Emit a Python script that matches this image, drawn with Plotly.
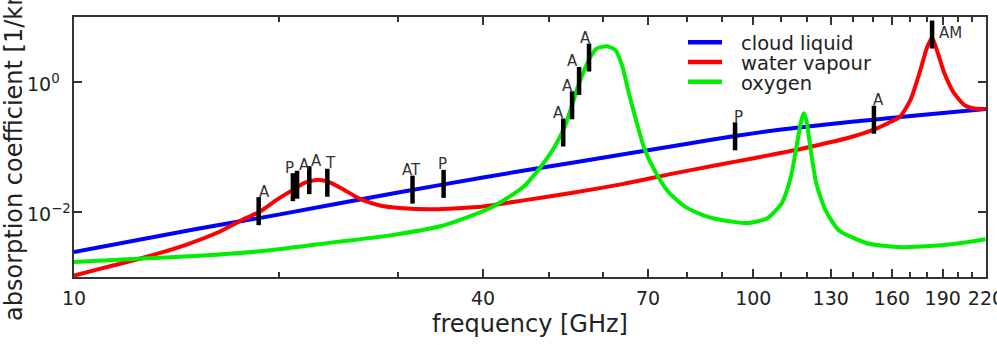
import numpy as np
import plotly.graph_objects as go

# ---------------- data ----------------
# frequency [GHz] and absorption coefficient [1/km]
cloud_freq = [10, 15, 20, 30, 40, 50, 60, 70, 80, 94, 110, 130, 150, 180, 220]
cloud_abs = [0.00243, 0.00537, 0.00912, 0.0200, 0.0339, 0.0501, 0.0684, 0.0891,
             0.112, 0.148, 0.186, 0.226, 0.263, 0.316, 0.383]

vapour_freq = [10, 11.05, 12.6, 14.65, 16.4, 17.7, 18.8, 19.9, 21.0, 21.8, 22.75,
               23.6, 24.7, 25.8, 26.7, 28.2, 30.2, 33.8, 40, 45.9, 54.5, 64.4,
               76.1, 89.3, 99.2, 117.4, 138.9, 150.8, 158.8, 164.5, 170.3, 176.1,
               180.2, 183.3, 186.5, 190.8, 197.6, 204.6, 211.7, 219.7]
vapour_abs = [0.00105, 0.00138, 0.00196, 0.00316, 0.00501, 0.00759, 0.0102, 0.0155,
              0.0219, 0.0279, 0.0312, 0.0295, 0.0234, 0.0180, 0.0151, 0.0126,
              0.0115, 0.0110, 0.0122, 0.0151, 0.0200, 0.0271, 0.0389, 0.0537,
              0.0661, 0.0933, 0.141, 0.186, 0.240, 0.295, 0.525, 1.51, 3.40, 4.8,
              3.00, 1.43, 0.667, 0.442, 0.390, 0.385]

oxygen_freq = [10, 12.4, 15.5, 19.4, 24.4, 29.2, 34.6, 41.0, 45.9, 49.1, 51.0, 52.9,
               54.1, 55.4, 57.4, 58.8, 60.9, 62.7, 64.2, 65.6, 67.2, 69.1, 71.5,
               74.9, 79.2, 84.5, 89.3, 98.1, 104.9, 110.1, 113.6, 116.0, 117.7,
               118.7, 119.7, 121.5, 123.8, 127.7, 133.6, 147.0, 164.5, 184.3,
               206.3, 219.7]
oxygen_abs = [0.00170, 0.00191, 0.00214, 0.00257, 0.00347, 0.00437, 0.00603, 0.0115,
              0.0245, 0.0562, 0.101, 0.219, 0.442, 0.955, 2.29, 3.27, 3.55, 3.09,
              1.70, 0.665, 0.259, 0.0955, 0.0442, 0.0207, 0.0122, 0.00891, 0.00759,
              0.00676, 0.00804, 0.0136, 0.0351, 0.115, 0.259, 0.331, 0.259, 0.0891,
              0.0275, 0.0107, 0.00525, 0.00331, 0.00288, 0.00302, 0.00343, 0.00380]

# instrument channels (bars) and their labels
sensor_freq = [18.7, 21.0, 21.3, 22.2, 23.6, 31.5, 35.0, 52.5, 54.1, 55.4, 57.3,
               94.0, 150.5, 183.3]
sensor_abs = [0.0103, 0.0241, 0.0263, 0.0309, 0.0282, 0.0221, 0.0271, 0.167, 0.438,
              1.04, 2.38, 0.146, 0.263, 5.37]
sensor_label = ["A", "P", "A", "A", "T", "AT", "P", "A", "A", "A", "A", "P", "A", "AM"]

series_names = ["cloud liquid", "water vapour", "oxygen"]

x_tick_vals = [10, 40, 70, 100, 130, 160, 190, 220]
x_minor_vals = [20, 30, 50, 60, 80, 90, 110, 120, 140, 150, 170, 180, 200, 210]
y_tick_vals = [1e-2, 1]
y_tick_text = ["10<sup>\u22122</sup>", "10<sup>0</sup>"]

# ---------------- style ----------------
FONT = "DejaVu Sans"
TXT = "#222222"
AXC = "#333333"
series_colors = ["#0000ff", "#ff0000", "#00ee00"]
# label offsets in px relative to bar centre (dx, dy)
label_shift = [(6, 19.5), (-3, 19.5), (7, 19.5), (7, 19.5), (3, 19.5), (-1, 19.5),
               (-1, 19.5), (-5, 19.5), (-5, 19.5), (-7, 19.5), (-4, 19.5),
               (3, 19.5), (5, 19.5), (18, 1.5)]

W, H = 997, 345
ML, MR, MT, MB = 74, 11, 17, 68
PW, PH = W - ML - MR, H - MT - MB

fig = go.Figure()
for xs, ys, name, col in zip([cloud_freq, vapour_freq, oxygen_freq],
                             [cloud_abs, vapour_abs, oxygen_abs],
                             series_names, series_colors):
    fig.add_trace(go.Scatter(x=xs, y=ys, name=name, mode="lines",
                             line=dict(color=col, width=4, shape="spline", smoothing=0.6),
                             showlegend=False))

fig.add_trace(go.Scatter(x=sensor_freq, y=sensor_abs, mode="markers", showlegend=False,
                         marker=dict(symbol="line-ns", size=20,
                                     line=dict(width=4.5, color="black"))))

for f, v, lab, (dx, dy) in zip(sensor_freq, sensor_abs, sensor_label, label_shift):
    fig.add_annotation(x=np.log10(f), y=np.log10(v), text=lab, showarrow=False,
                       xanchor="center", yanchor="middle", xshift=dx, yshift=dy,
                       font=dict(family=FONT, size=15, color="#333333"))

# y tick labels, left-aligned as in the reference
for tv, tt in zip(y_tick_vals, y_tick_text):
    fig.add_annotation(xref="paper", yref="y", x=(25 - ML) / PW, y=np.log10(tv),
                       text=tt, showarrow=False, xanchor="left", yanchor="middle",
                       yshift=-1, font=dict(family=FONT, size=19, color=TXT))

# manual legend (inside the plot, top right)
leg_x0, leg_x1, leg_tx = 688, 722, 739
leg_y0, leg_dy = 42.3, 19.7
for i, (name, col) in enumerate(zip(series_names, series_colors)):
    ypx = leg_y0 + i * leg_dy
    yp = 1 - (ypx - MT) / PH
    fig.add_shape(type="line", xref="paper", yref="paper",
                  x0=(leg_x0 - ML) / PW, x1=(leg_x1 - ML) / PW, y0=yp, y1=yp,
                  line=dict(color=col, width=4.5))
    fig.add_annotation(xref="paper", yref="paper", x=(leg_tx - ML) / PW,
                       y=1 - (ypx + 1.5 - MT) / PH, text=name, showarrow=False,
                       xanchor="left", yanchor="middle",
                       font=dict(family=FONT, size=19.5, color=TXT))

fig.update_layout(
    width=W, height=H, margin=dict(l=ML, r=MR, t=MT, b=MB),
    paper_bgcolor="white", plot_bgcolor="white",
    font=dict(family=FONT, color=TXT),
    xaxis=dict(type="log", range=[1, np.log10(220.05)], showgrid=False, zeroline=False,
               showline=True, linecolor=AXC, linewidth=1.5, mirror="ticks",
               ticks="inside", ticklen=8, tickwidth=1.5, tickcolor=AXC,
               tickvals=x_tick_vals, ticktext=[str(v) for v in x_tick_vals],
               tickfont=dict(family=FONT, size=19, color=TXT),
               ticklabeloverflow="allow", ticklabelstandoff=3,
               minor=dict(tickvals=x_minor_vals, ticks="inside", ticklen=5,
                          tickwidth=1.5, tickcolor=AXC, showgrid=False),
               title=dict(text="frequency [GHz]", standoff=8,
                          font=dict(family=FONT, size=24, color=TXT)),
               automargin=False),
    yaxis=dict(type="log", range=[-3, 1], showgrid=False, zeroline=False,
               showline=True, linecolor=AXC, linewidth=1.5, mirror="ticks",
               ticks="inside", ticklen=8, tickwidth=1.5, tickcolor=AXC,
               tickvals=y_tick_vals, showticklabels=False,
               title=dict(text="absorption coefficient [1/km]", standoff=55,
                          font=dict(family=FONT, size=24, color=TXT)),
               automargin=False),
)

fig.write_html("out.html")
